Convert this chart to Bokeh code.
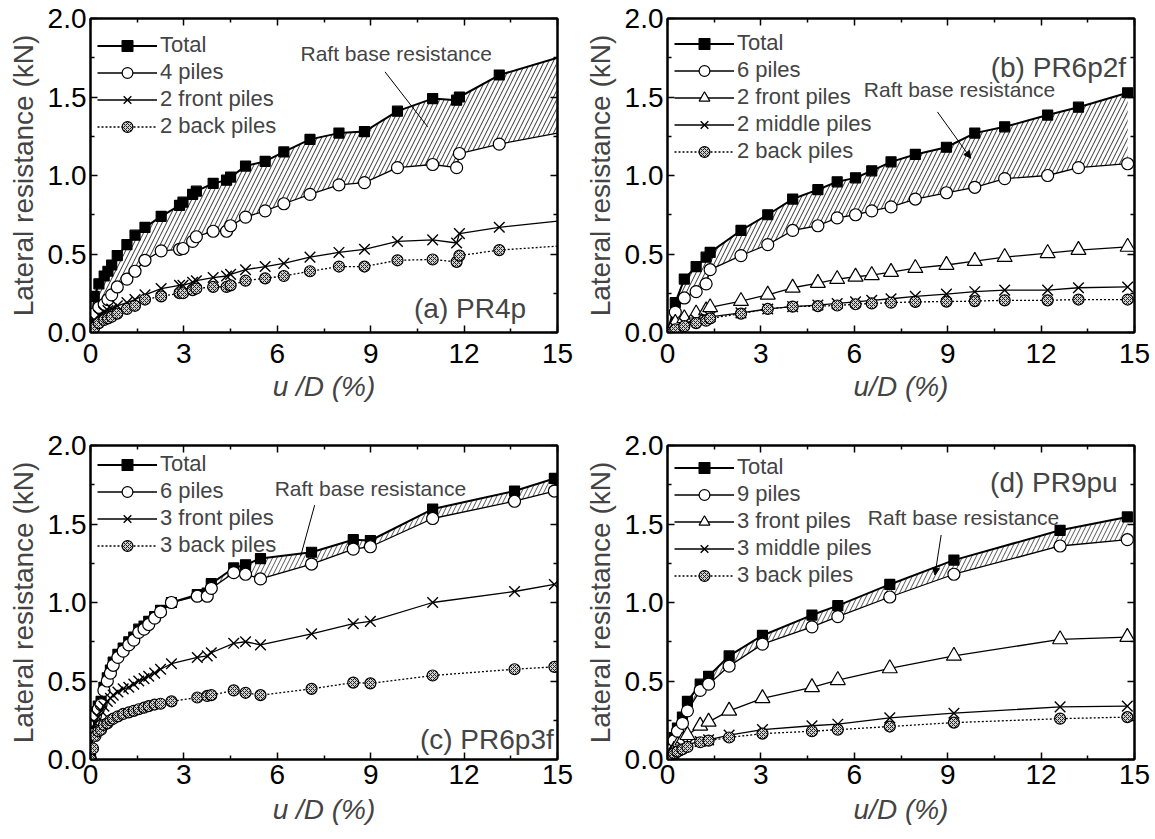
from bokeh.plotting import figure
from bokeh.layouts import column, row
from bokeh.models import (Range1d, FixedTicker, PrintfTickFormatter, LinearAxis, Legend,
                          LegendItem, Label, CustomJSTickFormatter, Arrow, NormalHead)
from bokeh.embed import file_html
from bokeh.resources import INLINE

FONT = "Liberation Sans"

x_ticks = [0, 3, 6, 9, 12, 15]
x_minor = [1.5, 4.5, 7.5, 10.5, 13.5]
y_ticks = [0.0, 0.5, 1.0, 1.5, 2.0]
y_minor = [0.25, 0.75, 1.25, 1.75]

# ---------------- (a) PR4p ----------------
a_x = [0.0, 0.12, 0.27, 0.44, 0.56, 0.68, 0.86, 1.17, 1.43, 1.75, 2.27, 2.86, 2.97, 3.28, 3.40,
       3.94, 4.37, 4.50, 4.98, 5.61, 6.21, 7.05, 7.98, 8.80, 9.86, 10.99, 11.76, 11.85, 13.13, 15.0]
a_total = [0.0, 0.23, 0.31, 0.36, 0.39, 0.43, 0.49, 0.56, 0.62, 0.67, 0.74, 0.81, 0.83, 0.88, 0.90,
           0.95, 0.97, 0.99, 1.06, 1.09, 1.15, 1.23, 1.27, 1.28, 1.41, 1.49, 1.48, 1.50, 1.64, 1.75]
a_piles = [0.0, 0.12, 0.16, 0.18, 0.21, 0.24, 0.29, 0.34, 0.39, 0.46, 0.52, 0.53, 0.535, 0.58, 0.61,
           0.645, 0.645, 0.68, 0.735, 0.775, 0.82, 0.88, 0.94, 0.955, 1.05, 1.07, 1.05, 1.14, 1.20, 1.27]
a_front = [0.0, 0.08, 0.11, 0.13, 0.14, 0.15, 0.17, 0.19, 0.21, 0.24, 0.28, 0.30, 0.30, 0.32, 0.33,
           0.35, 0.36, 0.37, 0.40, 0.42, 0.44, 0.48, 0.51, 0.53, 0.58, 0.59, 0.57, 0.63, 0.67, 0.71]
a_back = [0.0, 0.03, 0.06, 0.08, 0.09, 0.10, 0.12, 0.15, 0.17, 0.21, 0.23, 0.25, 0.25, 0.27, 0.28,
          0.29, 0.29, 0.30, 0.33, 0.345, 0.36, 0.39, 0.42, 0.42, 0.46, 0.465, 0.45, 0.49, 0.525, 0.55]

# ---------------- (b) PR6p2f ----------------
b_x = [0.0, 0.25, 0.54, 0.92, 1.24, 1.37, 2.36, 3.22, 4.02, 4.83, 5.45, 6.04, 6.56, 7.18, 7.96,
       8.96, 9.87, 10.83, 12.21, 13.20, 14.78]
b_total = [0.0, 0.19, 0.34, 0.42, 0.48, 0.51, 0.65, 0.75, 0.85, 0.91, 0.96, 0.985, 1.03, 1.087, 1.134,
           1.18, 1.27, 1.31, 1.385, 1.435, 1.527]
b_piles = [0.0, 0.13, 0.22, 0.26, 0.31, 0.40, 0.49, 0.56, 0.65, 0.68, 0.73, 0.75, 0.775, 0.80, 0.85,
           0.89, 0.925, 0.98, 1.0, 1.05, 1.075]
b_front = [0.0, 0.06, 0.09, 0.12, 0.14, 0.16, 0.20, 0.24, 0.285, 0.315, 0.34, 0.355, 0.365, 0.385, 0.41,
           0.43, 0.455, 0.48, 0.505, 0.525, 0.545]
b_middle = [0.0, 0.03, 0.06, 0.08, 0.09, 0.10, 0.125, 0.15, 0.165, 0.175, 0.185, 0.195, 0.205, 0.215, 0.23,
            0.245, 0.26, 0.27, 0.27, 0.285, 0.29]
b_back = [0.0, 0.02, 0.04, 0.06, 0.075, 0.09, 0.12, 0.15, 0.165, 0.168, 0.172, 0.18, 0.185, 0.19, 0.195,
          0.197, 0.2, 0.205, 0.205, 0.21, 0.21]

# ---------------- (c) PR6p3f ----------------
c_x = [0.0, 0.08, 0.16, 0.25, 0.34, 0.43, 0.54, 0.64, 0.73, 0.88, 1.05, 1.23, 1.39, 1.55, 1.72, 1.87,
       2.06, 2.25, 2.60, 3.43, 3.75, 3.88, 4.60, 4.98, 5.46, 7.10, 8.44, 8.99, 10.99, 13.62, 14.90]
c_total = [0.0, 0.18, 0.30, 0.34, 0.37, 0.46, 0.52, 0.57, 0.62, 0.67, 0.71, 0.75, 0.78, 0.83, 0.85, 0.88,
           0.91, 0.95, 1.0, 1.05, 1.06, 1.12, 1.22, 1.24, 1.28, 1.32, 1.40, 1.395, 1.595, 1.71, 1.79]
c_piles = [0.0, 0.16, 0.28, 0.32, 0.35, 0.44, 0.50, 0.55, 0.60, 0.65, 0.69, 0.73, 0.76, 0.81, 0.83, 0.86,
           0.90, 0.94, 1.0, 1.04, 1.04, 1.09, 1.19, 1.18, 1.15, 1.245, 1.34, 1.355, 1.535, 1.645, 1.71]
c_front = [0.0, 0.15, 0.23, 0.27, 0.31, 0.34, 0.37, 0.39, 0.41, 0.43, 0.45, 0.46, 0.48, 0.50, 0.515, 0.53,
           0.55, 0.575, 0.61, 0.65, 0.66, 0.68, 0.74, 0.75, 0.73, 0.80, 0.865, 0.88, 1.0, 1.07, 1.115]
c_back = [0.0, 0.07, 0.15, 0.18, 0.19, 0.22, 0.23, 0.25, 0.26, 0.275, 0.29, 0.30, 0.31, 0.32, 0.33, 0.34,
          0.35, 0.355, 0.37, 0.395, 0.405, 0.41, 0.44, 0.425, 0.41, 0.45, 0.49, 0.485, 0.535, 0.575, 0.59]

# ---------------- (d) PR9pu ----------------
d_x = [0.0, 0.11, 0.21, 0.32, 0.48, 0.64, 1.05, 1.32, 1.98, 3.05, 4.64, 5.47, 7.14, 9.20, 12.61, 14.77]
d_total = [0.0, 0.08, 0.14, 0.20, 0.27, 0.37, 0.48, 0.53, 0.66, 0.79, 0.92, 0.98, 1.115, 1.27, 1.46, 1.545]
d_piles = [0.0, 0.06, 0.12, 0.18, 0.23, 0.31, 0.44, 0.48, 0.595, 0.735, 0.845, 0.91, 1.035, 1.18, 1.36, 1.40]
d_front = [0.0, 0.03, 0.06, 0.09, 0.12, 0.155, 0.215, 0.24, 0.31, 0.39, 0.46, 0.505, 0.58, 0.66, 0.765, 0.78]
d_middle = [0.0, 0.02, 0.04, 0.06, 0.08, 0.095, 0.115, 0.125, 0.155, 0.19, 0.215, 0.225, 0.265, 0.295, 0.335, 0.34]
d_back = [0.0, 0.02, 0.04, 0.05, 0.065, 0.08, 0.11, 0.12, 0.14, 0.165, 0.18, 0.19, 0.21, 0.235, 0.26, 0.27]

STY = {
    "total": dict(marker="square", size=10, fill="black", lw=2.0, dash="solid", hatch=None, mlw=1.2),
    "piles": dict(marker="circle", size=12, fill="white", lw=1.3, dash="solid", hatch=None, mlw=1.2),
    "cross": dict(marker="x", size=15, fill=None, lw=1.3, dash="solid", hatch=None, mlw=1.4),
    "tri": dict(marker="triangle", size=15, fill="white", lw=1.3, dash="solid", hatch=None, mlw=1.2),
    "back": dict(marker="circle", size=11, fill="#d0d0d0", lw=1.3, dash="2 2", hatch="x", mlw=1.2),
}

ROW_H = 27
PAD = 8


def style_axis(ax, ticker, fmt, lab_off=False):
    ax.ticker = ticker
    ax.axis_line_width = 2
    ax.axis_line_color = "black"
    ax.major_tick_in = 7
    ax.major_tick_out = 0
    ax.minor_tick_in = 4
    ax.minor_tick_out = 0
    ax.major_tick_line_width = 1.5
    ax.minor_tick_line_width = 1.5
    ax.major_label_text_font = FONT
    ax.major_label_text_font_size = "28px"
    ax.major_label_text_color = "black"
    if lab_off:
        ax.formatter = CustomJSTickFormatter(code="return ''")
        ax.major_label_standoff = 0
    else:
        ax.formatter = fmt


def make_panel(x, series, hatch_pair, hatch_color, panel_text, panel_pos, raft_pos, raft_line,
               raft_arrow, xtitle, leg_first, xstand, geom):
    w, h, bl, br, bt, bb = geom
    fh = h - bt - bb
    p = figure(width=w, height=h, x_range=Range1d(0, 15), y_range=Range1d(0, 2),
               output_backend="svg", toolbar_location=None,
               min_border_left=bl, min_border_right=br, min_border_top=bt, min_border_bottom=bb,
               outline_line_color="black", outline_line_width=2,
               background_fill_color="white", border_fill_color="white")
    p.grid.visible = False
    xt = FixedTicker(ticks=x_ticks, minor_ticks=x_minor)
    yt = FixedTicker(ticks=y_ticks, minor_ticks=y_minor)
    style_axis(p.below[0], xt, PrintfTickFormatter(format="%d"))
    p.below[0].major_label_standoff = xstand[0]
    p.below[0].axis_label = xtitle
    p.below[0].axis_label_text_font = FONT
    p.below[0].axis_label_text_font_size = "28px"
    p.below[0].axis_label_text_font_style = "italic"
    p.below[0].axis_label_standoff = xstand[1]
    style_axis(p.left[0], yt, PrintfTickFormatter(format="%.1f"))
    p.left[0].major_label_standoff = 4
    p.left[0].axis_label = "Lateral resistance (kN)"
    p.left[0].axis_label_text_font = FONT
    p.left[0].axis_label_text_font_size = "28px"
    p.left[0].axis_label_text_font_style = "normal"
    p.left[0].axis_label_standoff = 6
    top = LinearAxis()
    style_axis(top, FixedTicker(ticks=x_ticks, minor_ticks=x_minor), None, lab_off=True)
    p.add_layout(top, "above")
    right = LinearAxis()
    style_axis(right, FixedTicker(ticks=y_ticks, minor_ticks=y_minor), None, lab_off=True)
    p.add_layout(right, "right")

    # hatched raft base resistance region
    lo, hi = hatch_pair
    p.varea(x=x, y1=lo, y2=hi, fill_color=None, hatch_pattern="/", hatch_color=hatch_color,
            hatch_scale=9, hatch_weight=1.0)

    mask = [xv < 14.95 for xv in x]
    items = []
    for label, y, key in series:
        s = STY[key]
        rl = p.line(x, y, line_color="black", line_width=s["lw"], line_dash=s["dash"])
        xm = [a for a, m in zip(x, mask) if m]
        ym = [b for b, m in zip(y, mask) if m]
        kw = dict(marker=s["marker"], size=s["size"], line_color="black", line_width=s["mlw"])
        kw["fill_color"] = s["fill"]
        if s["hatch"]:
            kw.update(hatch_pattern=s["hatch"], hatch_color="#222222", hatch_scale=4, hatch_weight=1)
        rs = p.scatter(xm, ym, **kw)
        items.append(LegendItem(label=label, renderers=[rl, rs]))

    n = len(items)
    leg_h = n * ROW_H + 2 * PAD
    leg_top = leg_first - ROW_H / 2.0 - PAD
    vy = fh - leg_top - leg_h
    leg = Legend(items=items, location=(7, vy), glyph_width=60, glyph_height=ROW_H,
                 label_height=ROW_H, spacing=0, padding=PAD, margin=0, border_line_color=None,
                 background_fill_alpha=0, label_text_font=FONT, label_text_font_size="22px",
                 label_standoff=3)
    p.add_layout(leg)

    # panel label
    p.add_layout(Label(x=panel_pos[0], y=panel_pos[1], text=panel_text, text_align="right",
                       text_baseline="middle", text_font=FONT, text_font_size="28px"))
    # raft base resistance annotation
    p.add_layout(Label(x=raft_pos[0], y=raft_pos[1], text="Raft base resistance", text_align="center",
                       text_baseline="middle", text_font=FONT, text_font_size="21px"))
    (x0, y0), (x1, y1) = raft_line
    if raft_arrow:
        p.add_layout(Arrow(x_start=x0, y_start=y0, x_end=x1, y_end=y1, line_width=1,
                           end=NormalHead(size=7, fill_color="black", line_width=1)))
    else:
        p.line([x0, x1], [y0, y1], line_color="black", line_width=1)
    return p


pa = make_panel(a_x,
                [("Total", a_total, "total"), ("4 piles", a_piles, "piles"),
                 ("2 front piles", a_front, "cross"), ("2 back piles", a_back, "back")],
                (a_piles, a_total), "#333333", "(a) PR4p", (13.99, 0.15),
                (9.82, 1.78), ((9.46, 1.66), (10.83, 1.31)), False, "u /D (%)", 19, (11, 5),
                (577, 412, 90, 20, 18, 80))
pb = make_panel(b_x,
                [("Total", b_total, "total"), ("6 piles", b_piles, "piles"),
                 ("2 front piles", b_front, "tri"), ("2 middle piles", b_middle, "cross"),
                 ("2 back piles", b_back, "back")],
                (b_piles, b_total), "#333333", "(b) PR6p2f", (14.73, 1.69),
                (9.38, 1.545), ((8.67, 1.405), (9.74, 1.11)), True, "u/D (%)", 17, (11, 5),
                (578, 412, 90, 21, 18, 80))
pc = make_panel(c_x,
                [("Total", c_total, "total"), ("6 piles", c_piles, "piles"),
                 ("3 front piles", c_front, "cross"), ("3 back piles", c_back, "back")],
                (c_piles, c_total), "#555555", "(c) PR6p3f", (14.88, 0.13),
                (8.99, 1.725), ((7.2, 1.62), (6.75, 1.295)), False, "u /D (%)", 11, (5, 7),
                (577, 427, 90, 20, 33, 80))
pd_ = make_panel(d_x,
                 [("Total", d_total, "total"), ("9 piles", d_piles, "piles"),
                  ("3 front piles", d_front, "tri"), ("3 middle piles", d_middle, "cross"),
                  ("3 back piles", d_back, "back")],
                 (d_piles, d_total), "#555555", "(d) PR9pu", (14.46, 1.765),
                 (9.51, 1.54), ((8.79, 1.43), (8.59, 1.175)), True, "u/D (%)", 14, (5, 7),
                 (578, 427, 90, 21, 33, 80))

layout = column(row(pa, pb, spacing=0), row(pc, pd_, spacing=0), spacing=0)
open("out.html", "w").write(file_html(layout, INLINE))
